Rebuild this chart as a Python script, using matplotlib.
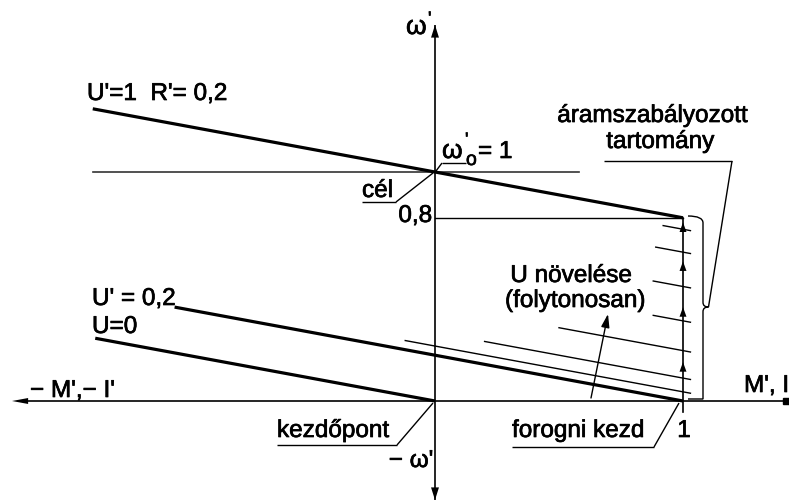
import matplotlib
matplotlib.use("Agg")
import matplotlib.pyplot as plt
import matplotlib.patheffects as pe
from matplotlib.path import Path
from matplotlib.patches import PathPatch, Polygon

# ---- model: omega' = U' - R' * I'  (per-unit DC motor, armature control) ----
R_prime = 0.2
omega0 = 1.0            # no-load speed reference (cél)
I_limit = 1.0           # current limit
omega_at_limit = 0.8    # speed where U'=1 line meets the current limit

# main characteristics: U', start and end current
U_main = [1.0, 0.2, 0.0]
I_main_start = [-1.38, -1.05, -1.37]
I_main_end = [1.0, 1.0, 0.0]

# thin family while U rises continuously along the current limit
U_thin = [0.95, 0.85, 0.70, 0.55, 0.42, 0.30, 0.24]
I_thin_start = [0.92, 0.89, 0.88, 0.88, 0.50, 0.20, -0.12]
I_thin_end = 1.03

# arrow tips on the current-limit segment
arrow_omegas = [0.17, 0.41, 0.61, 0.78]

# ---- canvas: pixel-aligned data frame ----
W, H, DPI = 789, 500, 100
X0, Y0 = 435, 401          # origin in pixels
SX, SY = 248, 229          # pixels per unit


def P(xp, yp):
    """pixel (from top-left) -> data coordinates"""
    return (xp - X0) / SX, (Y0 - yp) / SY


fig = plt.figure(figsize=(W / DPI, H / DPI), dpi=DPI)
ax = fig.add_axes([0, 0, 1, 1])
ax.set_xlim(-X0 / SX, (W - X0) / SX)
ax.set_ylim((Y0 - H) / SY, Y0 / SY)
ax.axis("off")

FONT = "Liberation Sans"
FS = 17.5
K = "black"
THICK = 2.3
THIN = 1.0
BOLDEN = [pe.withStroke(linewidth=0.5, foreground=K)]


def txt(xp, yp, s, ha="left", va="baseline", size=FS):
    x, y = P(xp, yp)
    ax.text(x, y, s, ha=ha, va=va, fontsize=size, family=FONT, color=K,
            path_effects=BOLDEN)


def seg(p1, p2, lw=THIN, color=K):
    ax.plot([p1[0], p2[0]], [p1[1], p2[1]], color=color, lw=lw,
            solid_capstyle="butt")


def tri_up(x, y, w=0.014, h=0.04):
    ax.add_patch(Polygon([(x, y), (x - w, y - h), (x + w, y - h)],
                         closed=True, color=K, lw=0))


# ---- axes ----
xl, _ = P(12, 0)
xr, _ = P(786, 0)
_, yt = P(0, 25)
_, yb = P(0, 500)
seg((xl + 0.03, 0), (xr, 0), lw=1.2)
ax.add_patch(Polygon([(xl, 0), (xl + 0.065, 0.013), (xl + 0.065, -0.013)],
                     closed=True, color=K, lw=0))
ax.plot([xr], [0], marker="s", ms=4, color=K)
seg((0, yb), (0, yt), lw=1.2)
tri_up(0, yt, w=0.016, h=0.055)
ax.add_patch(Polygon([(0, yb), (-0.016, yb + 0.055), (0.016, yb + 0.055)],
                     closed=True, color=K, lw=0))

# ---- reference lines ----
ax.plot([I_main_start[0], 0.581], [omega0, omega0], color="#333333", lw=1.2)
ax.plot([0, I_limit], [omega_at_limit, omega_at_limit], color=K, lw=1.0)

# ---- main characteristics ----
for U, a, b in zip(U_main, I_main_start, I_main_end):
    ax.plot([a, b], [U - R_prime * a, U - R_prime * b], color=K, lw=THICK,
            solid_capstyle="butt")

# ---- thin family ----
for U, a in zip(U_thin, I_thin_start):
    ax.plot([a, I_thin_end], [U - R_prime * a, U - R_prime * I_thin_end],
            color=K, lw=THIN)

# ---- current limit segment with arrows ----
ax.plot([I_limit, I_limit], [-0.048, omega_at_limit], color=K, lw=1.2)
for w in arrow_omegas:
    tri_up(I_limit, w, w=0.014, h=0.042)

# ---- brace for current-controlled range ----
bx = P(703, 0)[0]
tx = P(708.5, 0)[0]
top = P(0, 216)[1]
mid = P(0, 307)[1]
bot = P(0, 399)[1]
x_in = P(688, 0)[0]
verts = [
    (x_in, top), (bx, top), (bx, top - 0.03), (bx, top - 0.06),
    (bx, mid + 0.02), (bx, mid), (tx, mid), (bx, mid),
    (bx, mid - 0.02), (bx, bot + 0.06), (bx, bot + 0.03),
    (bx, bot), (x_in, bot),
]
codes = [
    Path.MOVETO, Path.CURVE3, Path.CURVE3, Path.LINETO,
    Path.LINETO, Path.CURVE3, Path.CURVE3, Path.CURVE3,
    Path.CURVE3, Path.LINETO, Path.CURVE3,
    Path.CURVE3, Path.LINETO,
]
ax.add_patch(PathPatch(Path(verts, codes), fill=False, lw=1.0, ec=K))
# leader from brace tip to the label
seg(P(708.5, 307), P(732, 161))
seg(P(732, 161), P(604, 161))

# ---- "U növelése" arrow ----
ax.annotate("", xy=P(608, 314), xytext=P(591, 398),
            arrowprops=dict(arrowstyle="-|>,head_length=0.8,head_width=0.25",
                            color=K, lw=1.0, shrinkA=0, shrinkB=0))

# ---- labels with leaders ----
txt(362, 197, "cél")
seg(P(362, 202), P(396, 202))
seg(P(396, 202), P(433, 173))

txt(442, 158, "ω", size=19)
txt(465, 145, "'", size=13)
txt(466, 165, "o", size=14)
txt(478, 158, "= 1")
seg(P(442, 163), P(466, 163))
seg(P(442, 163), P(436, 171))

txt(277, 437, "kezdőpont")
seg(P(277, 445), P(397, 445))
seg(P(397, 445), P(433, 403))

txt(512, 437, "forogni kezd")
seg(P(512, 447), P(654, 447))
seg(P(654, 447), P(679, 403))

# ---- plain labels ----
txt(87, 100, "U'=1  R'= 0,2")
txt(432, 222, "0,8", ha="right")
txt(92, 305, "U' = 0,2")
txt(92, 333, "U=0")
txt(30, 397, "− M',− I'")
txt(789, 392, "M', I", ha="right")
txt(684, 437, "1", ha="center")
txt(406, 34, "ω", size=19)
txt(428, 24, "'", size=13)
txt(411, 467, "− ω'", ha="center")
txt(571, 282, "U növelése", ha="center")
txt(575, 307, "(folytonosan)", ha="center")
txt(652, 122, "áramszabályozott", ha="center")
txt(660, 148, "tartomány", ha="center")

fig.savefig("out.png", dpi=DPI, facecolor="white")
